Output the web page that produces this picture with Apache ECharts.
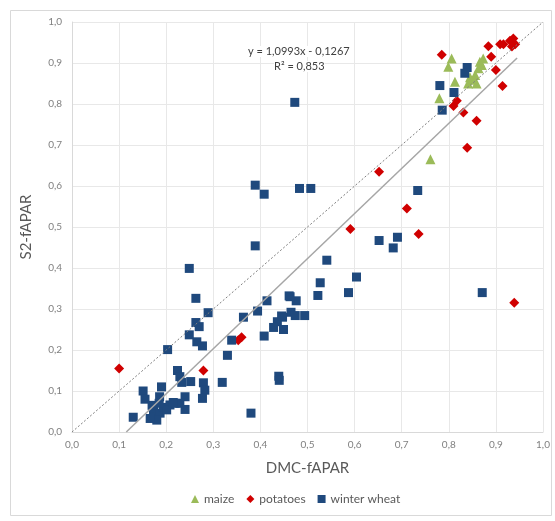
<!DOCTYPE html>
<html>
<head>
<meta charset="utf-8" />
<title></title>
<script src="https://cdn.jsdelivr.net/npm/echarts@6/dist/echarts.min.js"></script>
<style>
html, body { margin: 0; padding: 0; background: #ffffff; }
#chart { width: 555px; height: 521px; }
</style>
</head>
<body>
<div id="chart"></div>
<script type="text/javascript">
// tick values on both axes
var tickMin = 0, tickMax = 1, tickStep = 0.1;

// DMC-fAPAR (x), S2-fAPAR (y)
var maizeData = [
	[0.806, 0.911], [0.799, 0.891], [0.866, 0.903], [0.863, 0.887], [0.856, 0.871],
	[0.852, 0.859], [0.841, 0.850], [0.813, 0.854], [0.780, 0.814], [0.873, 0.911],
	[0.859, 0.850], [0.761, 0.665], [0.845, 0.865], [0.870, 0.895]
];
var potatoesData = [
	[0.100, 0.155], [0.279, 0.150], [0.353, 0.224], [0.360, 0.231], [0.652, 0.635],
	[0.591, 0.495], [0.711, 0.545], [0.736, 0.483], [0.939, 0.315], [0.839, 0.693],
	[0.859, 0.759], [0.831, 0.779], [0.914, 0.844], [0.810, 0.795], [0.817, 0.808],
	[0.785, 0.920], [0.884, 0.941], [0.909, 0.946], [0.916, 0.946], [0.930, 0.954],
	[0.937, 0.960], [0.941, 0.946], [0.934, 0.940], [0.890, 0.915], [0.900, 0.883]
];
var wheatData = [
	[0.473, 0.804], [0.781, 0.845], [0.811, 0.828], [0.839, 0.889], [0.834, 0.875],
	[0.786, 0.785], [0.389, 0.602], [0.408, 0.580], [0.483, 0.594], [0.507, 0.594],
	[0.734, 0.589], [0.389, 0.454], [0.652, 0.467], [0.691, 0.475], [0.682, 0.449],
	[0.541, 0.419], [0.604, 0.378], [0.527, 0.364], [0.587, 0.340], [0.522, 0.333],
	[0.871, 0.340], [0.461, 0.332], [0.476, 0.320], [0.414, 0.320], [0.394, 0.295],
	[0.465, 0.292], [0.474, 0.284], [0.494, 0.284], [0.364, 0.280], [0.447, 0.280],
	[0.436, 0.269], [0.428, 0.255], [0.449, 0.250], [0.408, 0.234], [0.339, 0.224],
	[0.439, 0.136], [0.440, 0.126], [0.330, 0.187], [0.249, 0.399], [0.263, 0.326],
	[0.289, 0.291], [0.263, 0.267], [0.270, 0.257], [0.249, 0.237], [0.265, 0.220],
	[0.277, 0.210], [0.319, 0.121], [0.380, 0.046], [0.203, 0.201], [0.224, 0.150],
	[0.229, 0.135], [0.233, 0.121], [0.252, 0.123], [0.279, 0.120], [0.282, 0.102],
	[0.277, 0.082], [0.240, 0.086], [0.240, 0.055], [0.190, 0.110], [0.151, 0.100],
	[0.155, 0.080], [0.186, 0.086], [0.130, 0.036], [0.173, 0.054], [0.176, 0.036],
	[0.187, 0.046], [0.194, 0.060], [0.208, 0.066], [0.219, 0.070], [0.180, 0.029],
	[0.201, 0.054], [0.166, 0.033], [0.229, 0.070], [0.215, 0.072], [0.170, 0.065],
	[0.185, 0.070], [0.463, 0.330], [0.445, 0.283]
];

// linear trend shown on the chart
var trendSlope = 1.0993, trendIntercept = -0.1267, trendEndX = 0.945;
var trendLabel = ['y = 1,0993x - 0,1267', 'R\u00b2 = 0,853'];

var fmt = function (v) { return v.toFixed(1).replace('.', ','); };

var myChart = echarts.init(document.getElementById('chart'));
var axisCommon = {
	type: 'value',
	min: tickMin,
	max: tickMax,
	interval: tickStep,
	nameLocation: 'middle',
	nameTextStyle: { color: '#595959', fontSize: 15, fontFamily: 'Lato' },
	axisLine: { show: true, lineStyle: { color: '#D9D9D9' } },
	axisTick: { show: false },
	axisLabel: { color: '#808080', fontSize: 10, fontFamily: 'Lato', formatter: fmt },
	splitLine: { show: true, lineStyle: { color: '#E8E8E8' } }
};

myChart.setOption({
	animation: false,
	backgroundColor: '#ffffff',
	grid: { left: 72, right: 12, top: 22, bottom: 89 },
	xAxis: echarts.util.merge({ name: 'DMC-fAPAR', nameGap: 29, axisLabel: { margin: 8 } }, axisCommon),
	yAxis: echarts.util.merge({ name: 'S2-fAPAR', nameGap: 38, axisLabel: { margin: 10 } }, axisCommon),
	legend: {
		data: ['maize', 'potatoes', 'winter wheat'],
		top: 488,
		left: 186,
		itemWidth: 8,
		itemHeight: 8,
		itemGap: 12,
		textStyle: { color: '#595959', fontSize: 12, fontFamily: 'Lato' }
	},
	graphic: [
		{ type: 'rect', left: 8, top: 8, shape: { width: 541, height: 505 },
		  style: { fill: 'none', stroke: '#D9D9D9', lineWidth: 1 }, silent: true, z: -1 },
		{ type: 'text', left: 248, top: 46, z: 10,
		  style: { text: trendLabel[0], fill: '#404040', font: '11px Lato', backgroundColor: '#ffffff' } },
		{ type: 'text', left: 274, top: 61, z: 10,
		  style: { text: trendLabel[1], fill: '#404040', font: '11px Lato', backgroundColor: '#ffffff' } }
	],
	series: [
		{ name: 'maize', type: 'scatter', symbol: 'triangle', symbolSize: 10,
		  itemStyle: { color: '#9BBB59', opacity: 1 }, data: maizeData },
		{ name: 'potatoes', type: 'scatter', symbol: 'diamond', symbolSize: 10,
		  itemStyle: { color: '#D00000', opacity: 1 }, data: potatoesData },
		{ name: 'winter wheat', type: 'scatter', symbol: 'rect', symbolSize: 9,
		  itemStyle: { color: '#1F497D', opacity: 1 }, data: wheatData },
		{ name: '1:1', type: 'line', symbol: 'none', z: 3,
		  lineStyle: { color: '#7F7F7F', width: 1, type: [2, 2] },
		  data: [[tickMin, tickMin], [tickMax, tickMax]] },
		{ name: 'trend', type: 'line', symbol: 'none', z: 3,
		  lineStyle: { color: '#A6A6A6', width: 1.5 },
		  data: [[-trendIntercept / trendSlope, 0], [trendEndX, trendSlope * trendEndX + trendIntercept]] }
	]
});
</script>
</body>
</html>
